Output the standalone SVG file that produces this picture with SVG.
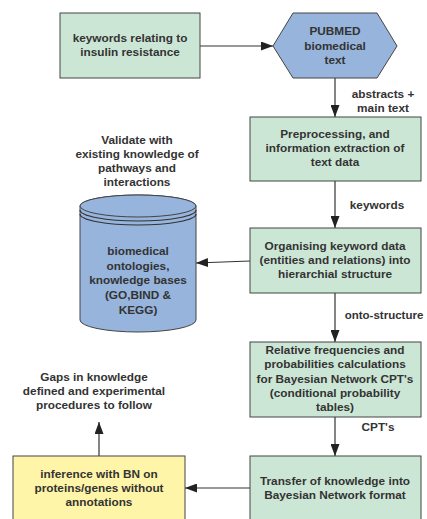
<svg xmlns="http://www.w3.org/2000/svg" width="427" height="519" viewBox="0 0 427 519">
<defs>
<marker id="ah" markerWidth="12" markerHeight="9" refX="12" refY="4.5" orient="auto" markerUnits="userSpaceOnUse">
<path d="M0,0 L12,4.5 L0,9 Z" fill="#222"/>
</marker>
<style>
.box{fill:#cce6d6;stroke:#444;stroke-width:1}
.blue{fill:#96b4dc;stroke:#444;stroke-width:1}
.yel{fill:#fff5a8;stroke:#444;stroke-width:1}
text{font-family:"Liberation Sans",Arial,sans-serif;font-weight:bold;font-size:11.8px;fill:#333;text-anchor:middle}
.ln{stroke:#333;stroke-width:1.2;fill:none}
</style>
</defs>
<rect width="427" height="519" fill="#fff"/>
<g id="connectors">
<line class="ln" x1="200" y1="46" x2="273" y2="46" marker-end="url(#ah)"/>
<line class="ln" x1="335" y1="78" x2="335" y2="117" marker-end="url(#ah)"/>
<line class="ln" x1="335" y1="181" x2="335" y2="228" marker-end="url(#ah)"/>
<line class="ln" x1="250" y1="261" x2="196" y2="263" marker-end="url(#ah)"/>
<line class="ln" x1="335" y1="293" x2="335" y2="342" marker-end="url(#ah)"/>
<line class="ln" x1="335" y1="417" x2="335" y2="456" marker-end="url(#ah)"/>
<line class="ln" x1="250" y1="488" x2="185" y2="488" marker-end="url(#ah)"/>
<line class="ln" x1="99" y1="456" x2="99" y2="422" marker-end="url(#ah)"/>
<text x="383" y="98">abstracts +</text>
<text x="383" y="112">main text</text>
<text x="377" y="209">keywords</text>
<text x="384" y="319" style="font-size:11.5px">onto-structure</text>
<text x="378" y="431">CPT's</text>
</g>
<g id="n-keywords">
<rect class="box" x="60" y="13" width="140" height="65"/>
<text x="130" y="42">keywords relating to</text>
<text x="130" y="56">insulin resistance</text>
</g>
<g id="n-pubmed">
<polygon class="blue" points="273,46 293,13 377,13 397,46 377,78 293,78"/>
<text x="335" y="35">PUBMED</text>
<text x="335" y="50">biomedical</text>
<text x="335" y="64">text</text>
</g>
<g id="n-preproc">
<rect class="box" x="250" y="117" width="171" height="64"/>
<text x="335" y="138">Preprocessing,  and</text>
<text x="335" y="152">information extraction of</text>
<text x="335" y="166">text data</text>
</g>
<g id="n-validate">
<text x="137" y="144">Validate with</text>
<text x="137" y="158">existing knowledge of</text>
<text x="137" y="172">pathways and</text>
<text x="137" y="186">interactions</text>
</g>
<g id="n-db">
<path class="blue" d="M80,206 L80,320 A58,12 0 0 0 196,320 L196,206 A58,11 0 0 0 80,206 Z"/>
<ellipse cx="138" cy="206" rx="58" ry="11" class="blue"/>
<path class="ln" d="M80,210 A58,11 0 0 0 196,210" stroke-width="1"/>
<path class="ln" d="M80,214 A58,11 0 0 0 196,214" stroke-width="1"/>
<text x="138" y="255">biomedical</text>
<text x="138" y="270">ontologies,</text>
<text x="138" y="284">knowledge bases</text>
<text x="138" y="299">(GO,BIND &amp;</text>
<text x="138" y="314">KEGG)</text>
</g>
<g id="n-organise">
<rect class="box" x="250" y="228" width="171" height="65"/>
<text x="335" y="250">Organising keyword data</text>
<text x="335" y="264">(entities and relations) into</text>
<text x="335" y="278">hierarchial structure</text>
</g>
<g id="n-relative">
<rect class="box" x="250" y="342" width="171" height="75"/>
<text x="335" y="354">Relative frequencies and</text>
<text x="335" y="368">probabilities calculations</text>
<text x="335" y="383">for Bayesian Network CPT's</text>
<text x="335" y="397">(conditional probability</text>
<text x="335" y="411">tables)</text>
</g>
<g id="n-gaps">
<text x="94" y="381">Gaps in knowledge</text>
<text x="94" y="395">defined and experimental</text>
<text x="94" y="409">procedures to follow</text>
</g>
<g id="n-transfer">
<rect class="box" x="250" y="456" width="171" height="75"/>
<text x="335" y="485">Transfer of knowledge into</text>
<text x="335" y="499">Bayesian Network format</text>
</g>
<g id="n-inference">
<rect class="yel" x="13" y="456" width="172" height="75"/>
<text x="99" y="478">inference with BN on</text>
<text x="99" y="492">proteins/genes without</text>
<text x="99" y="506">annotations</text>
</g>
</svg>
